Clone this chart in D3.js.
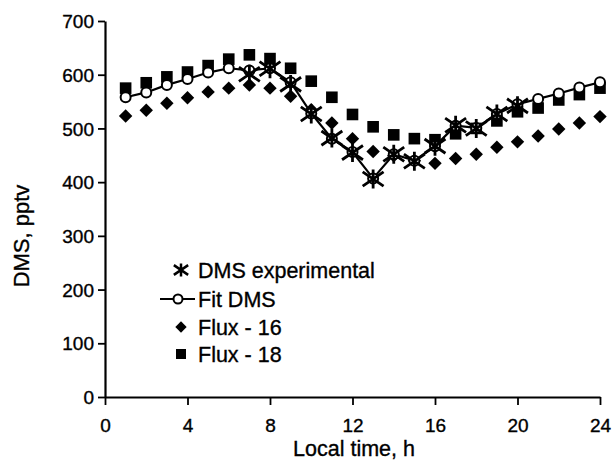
<!DOCTYPE html>
<html><head><meta charset="utf-8">
<script src="https://cdn.jsdelivr.net/npm/d3@7/dist/d3.min.js"></script>
<style>body{margin:0;background:#fff}svg{display:block}text{font-family:"Liberation Sans",Arial,sans-serif;fill:#000;stroke:#000;stroke-width:0.35px}</style>
</head><body><svg id="c" width="616" height="463"></svg>
<script>
const hours = [1,2,3,4,5,6,7,8,9,10,11,12,13,14,15,16,17,18,19,20,21,22,23,24];
const expHours = [7,8,9,10,11,12,13,14,15,16,17,18,19,20];
const dmsExperimental = [601,611,582,527,482,455,406,452,439,467,506,500,527,542];
const fitDMS = [558,567,581,592,604,612,608,612,586,528,481,456,407,452,440,467,505,501,527,545,555,565,576,586];
const flux16 = [523,534,547,557,568,575,581,575,560,535,510,481,457,449,440,435,444,452,465,475,486,499,510,522];
const flux18 = [575,585,596,605,617,629,637,630,612,588,558,526,503,488,481,479,490,500,514,531,538,553,563,575];
const xTicks = [0,4,8,12,16,20,24];
const yTicks = [0,100,200,300,400,500,600,700];
const legendLabels = ["DMS experimental","Fit DMS","Flux - 16","Flux - 18"];

const svg = d3.select("#c");
const x = d3.scaleLinear().domain([0,24]).range([105,600]);
const y = d3.scaleLinear().domain([0,700]).range([397,21]);

// axes
const xa = svg.append("g").attr("transform","translate(0,397)")
  .call(d3.axisBottom(x).tickValues(xTicks).tickSize(8).tickSizeOuter(0).tickPadding(14));
const ya = svg.append("g").attr("transform","translate(105,0)")
  .call(d3.axisLeft(y).tickValues(yTicks).tickSize(7).tickSizeOuter(0).tickPadding(4));
[xa,ya].forEach(a=>{
  a.select(".domain").attr("stroke","#000").attr("stroke-width",2.2);
  a.selectAll(".tick line").attr("stroke","#000").attr("stroke-width",1.8);
  a.selectAll(".tick text").attr("font-size",19).attr("font-weight","normal");
});
ya.selectAll(".tick text").attr("dy","0.35em");

svg.append("text").attr("x",354).attr("y",456).attr("text-anchor","middle")
  .attr("font-size",21.5).text("Local time, h");
svg.append("text").attr("transform","translate(29,236) rotate(-90)").attr("text-anchor","middle")
  .attr("font-size",22).text("DMS, pptv");

const starPath = s => `M0,${-s}L0,${s}M${-s*1.1},${-s*0.75}L${s*1.1},${s*0.75}M${-s*1.1},${s*0.75}L${s*1.1},${-s*0.75}`;
const diamondSide = 9.5;
const square = d3.symbol().type(d3.symbolSquare).size(135);
const diamond = d3.symbol().type(d3.symbolSquare).size(diamondSide*diamondSide);

const plot = svg.append("g");
// flux 16 diamonds
plot.selectAll(".d16").data(hours).join("path")
  .attr("transform",(h,i)=>`translate(${x(h)},${y(flux16[i])}) rotate(45)`).attr("d",diamond).attr("fill","#000");
// flux 18 squares
plot.selectAll(".d18").data(hours).join("path")
  .attr("transform",(h,i)=>`translate(${x(h)},${y(flux18[i])})`).attr("d",square).attr("fill","#000");
// fit line
plot.append("path").datum(hours).attr("fill","none").attr("stroke","#000").attr("stroke-width",2.2)
  .attr("d",d3.line().x(h=>x(h)).y((h,i)=>y(fitDMS[i])));
plot.selectAll(".cf").data(hours).join("circle")
  .attr("cx",h=>x(h)).attr("cy",(h,i)=>y(fitDMS[i])).attr("r",5)
  .attr("fill","#fff").attr("stroke","#000").attr("stroke-width",2);
// experimental stars
plot.selectAll(".st").data(expHours).join("path")
  .attr("transform",(h,i)=>`translate(${x(h)},${y(dmsExperimental[i])})`)
  .attr("d",starPath(9.5)).attr("fill","none").attr("stroke","#000").attr("stroke-width",2.8);

// legend
const lg = svg.append("g");
const ly = [270,299,327,354];
lg.append("path").attr("transform",`translate(181,${ly[0]})`).attr("d",starPath(6.5))
  .attr("stroke","#000").attr("stroke-width",2.5).attr("fill","none");
lg.append("line").attr("x1",160).attr("x2",195).attr("y1",ly[1]).attr("y2",ly[1]).attr("stroke","#000").attr("stroke-width",2);
lg.append("circle").attr("cx",178).attr("cy",ly[1]).attr("r",4.5).attr("fill","#fff").attr("stroke","#000").attr("stroke-width",2);
lg.append("path").attr("transform",`translate(181,${ly[2]}) rotate(45)`).attr("d",d3.symbol().type(d3.symbolSquare).size(64)).attr("fill","#000");
lg.append("path").attr("transform",`translate(181,${ly[3]})`).attr("d",d3.symbol().type(d3.symbolSquare).size(100)).attr("fill","#000");
lg.selectAll("text").data(legendLabels).join("text")
  .attr("x",198).attr("y",(d,i)=>ly[i]).attr("dy","0.35em").attr("font-size",21.5).text(d=>d);
</script></body></html>
